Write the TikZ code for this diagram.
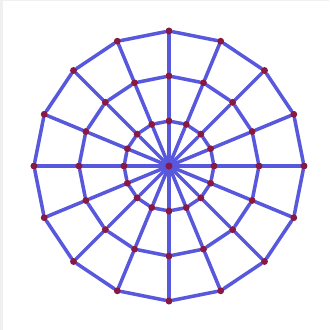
\documentclass[tikz,border=0pt]{standalone}
\usetikzlibrary{backgrounds}
\definecolor{webblue}{RGB}{88,88,220}
\definecolor{webdot}{RGB}{135,25,70}
\tikzset{
  webnode/.style={circle,fill=webdot,inner sep=0pt,minimum size=0.21cm},
  webedge/.style={webblue,line width=3pt,line cap=round}
}
\begin{document}
\begin{tikzpicture}[x=0.03cm,y=-0.03cm]
\useasboundingbox (-169,-166) rectangle (160,164);

% center and the three rings
\node[webnode] (c) at (0,0) {};
\foreach \r in {1,2,3}
  \foreach \k in {0,...,15}
    \node[webnode] (n\r-\k) at (90-22.5*\k:45*\r) {};

\begin{scope}[on background layer]
\fill[gray!12] (-169,-166) rectangle (160,164);
\fill[white] (-166,-165) rectangle (160,164);
% spokes
\foreach \k in {0,...,15}
  \draw[webedge] (c) -- (n1-\k) -- (n2-\k) -- (n3-\k);
% rings
\foreach \r in {1,2,3}
  \foreach \k in {0,...,15}{
    \pgfmathtruncatemacro{\nk}{mod(\k+1,16)}
    \draw[webedge] (n\r-\k) -- (n\r-\nk);
  }
\end{scope}
\end{tikzpicture}
\end{document}
